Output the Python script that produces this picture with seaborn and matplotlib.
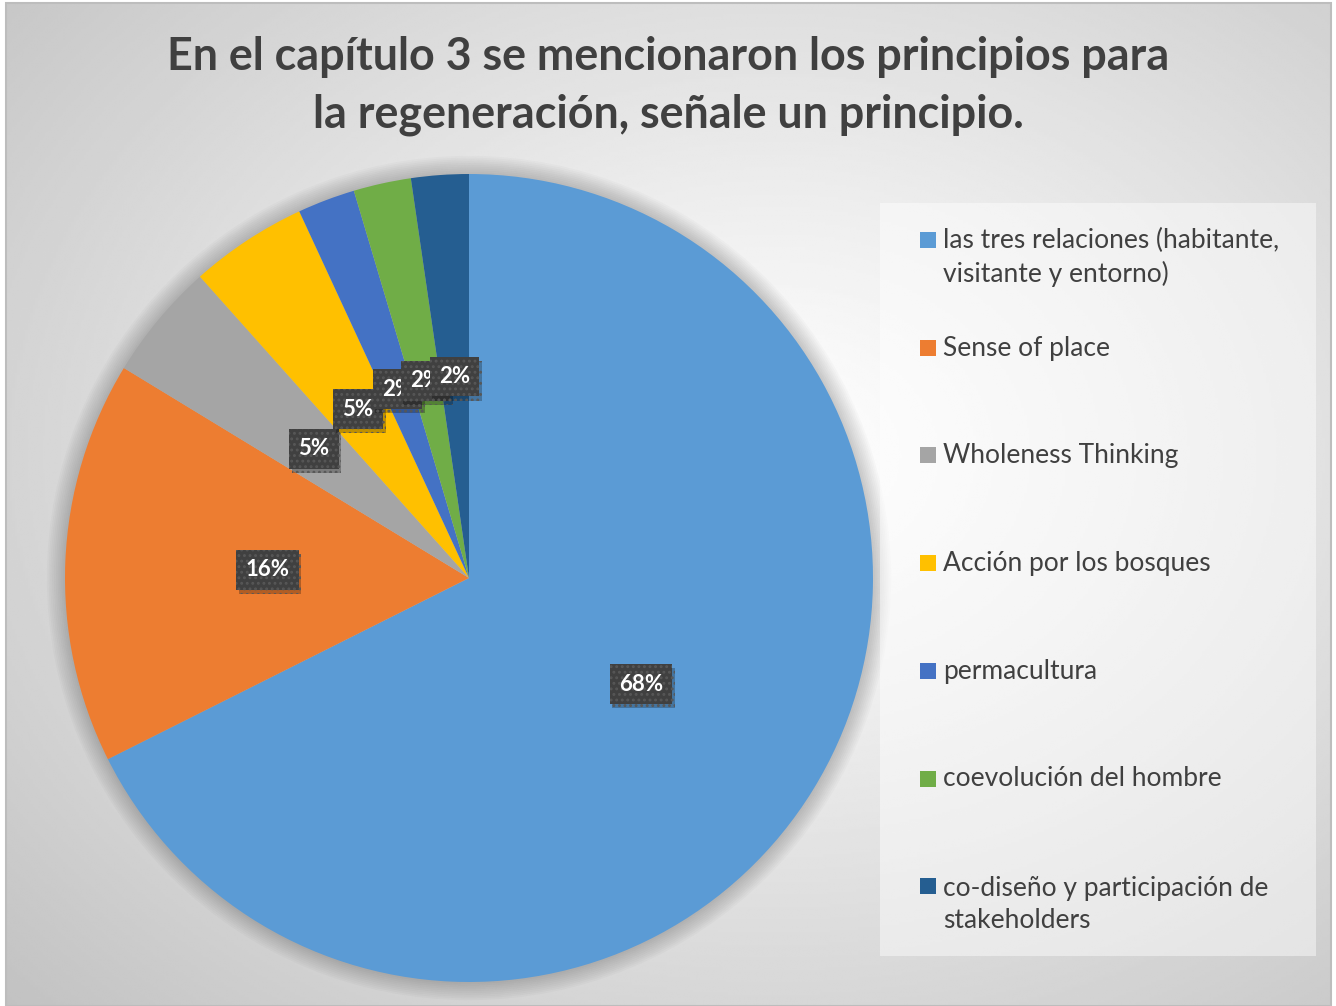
import numpy as np
import matplotlib
matplotlib.use("Agg")
import matplotlib.pyplot as plt
import matplotlib.patheffects as pe
from matplotlib.patches import Rectangle, Circle
import seaborn as sns

sns.set_theme(style="white")
plt.rcParams["font.family"] = ["Lato", "DejaVu Sans"]
plt.rcParams["hatch.linewidth"] = 1.3

# Share of answers per principle (%)
categories = [
    "las tres relaciones (habitante,\nvisitante y entorno)",
    "Sense of place",
    "Wholeness Thinking",
    "Acción por los bosques",
    "permacultura",
    "coevolución del hombre",
    "co-diseño y participación de\nstakeholders",
]
shares = [67.6, 16.1, 4.7, 4.7, 2.3, 2.3, 2.3]
colors = ["#5B9BD5", "#ED7D31", "#A5A5A5", "#FFC000", "#4472C4", "#70AD47", "#255E91"]
title = "En el capítulo 3 se mencionaron los principios para\nla regeneración, señale un principio."

W, H = 1336, 1006
fig = plt.figure(figsize=(W / 100, H / 100), dpi=100)
fig.patch.set_facecolor("white")

# Chart area with a soft radial gradient
bg = fig.add_axes([6 / W, 0, (1331 - 6) / W, (H - 3) / H])
yy, xx = np.mgrid[0:1:400j, 0:1:520j]
d = np.sqrt(((xx - 0.58) / 0.75) ** 2 + ((yy - 0.45) / 0.75) ** 2)
d = np.clip(d / d.max(), 0, 1)
shade = 1.0 - 0.24 * d ** 1.1
bg.imshow(shade, cmap="gray", vmin=0, vmax=1, aspect="auto",
          extent=[0, 1, 1, 0], interpolation="bilinear")
bg.set_xlim(0, 1)
bg.set_ylim(1, 0)
bg.set_axis_off()
fig.add_artist(Rectangle((6 / W, 0), (1331 - 6) / W, (H - 3) / H, transform=fig.transFigure,
                         fill=False, ec="#bdbdbd", lw=1.5, zorder=5))

# Title
fig.text(668 / W, 1 - 86 / H, title, ha="center", va="center", fontsize=32.3,
         fontweight="bold", color="#404040", linespacing=1.44)

# Pie
cx, cy, r = 469, 578, 404
ax = fig.add_axes([(cx - r) / W, (H - cy - r) / H, 2 * r / W, 2 * r / H])
# soft glow around the pie
for k in range(10, 0, -1):
    ax.add_patch(Circle((0, 0), 1 + 0.0045 * k, fc="black", ec="none",
                        alpha=0.018, clip_on=False, zorder=0))
wedges, texts, autotexts = ax.pie(
    shares, colors=colors, startangle=90, counterclock=False,
    autopct="%.0f%%", pctdistance=0.5, radius=1,
    wedgeprops=dict(linewidth=0, zorder=1),
    textprops=dict(color="white", fontsize=16, fontweight="bold"),
)
ax.set_xlim(-1, 1)
ax.set_ylim(-1, 1)
ax.set_axis_off()
for t in autotexts:
    t.set_zorder(3)
    t.set_bbox(dict(boxstyle="square,pad=0.42", fc="#404040", ec="#575757",
                    lw=0, hatch="..."))
    t.get_bbox_patch().set_path_effects(
        [pe.SimplePatchShadow(offset=(2, -3), shadow_rgbFace="black", alpha=0.25), pe.Normal()])

# Legend panel
fig.add_artist(Rectangle((880 / W, 1 - 956 / H), (1316 - 880) / W, (956 - 203) / H,
                         transform=fig.transFigure, fc="white", alpha=0.45, ec="none", zorder=3))
line_step = 34
for i, (lab, col) in enumerate(zip(categories, colors)):
    yc = 240 + 107.7 * i
    fig.add_artist(Rectangle((920 / W, 1 - (yc + 8) / H), 16 / W, 16 / H,
                             transform=fig.transFigure, fc=col, ec="none", zorder=4))
    # baseline of the last line, so the first line sits next to the square
    n_lines = lab.count("\n") + 1
    base = yc + 8 + (n_lines - 1) * line_step
    fig.text(943 / W, 1 - base / H, lab, ha="left", va="baseline", fontsize=19,
             color="#404040", linespacing=1.36, zorder=4)

fig.savefig("out.png", dpi=100)
